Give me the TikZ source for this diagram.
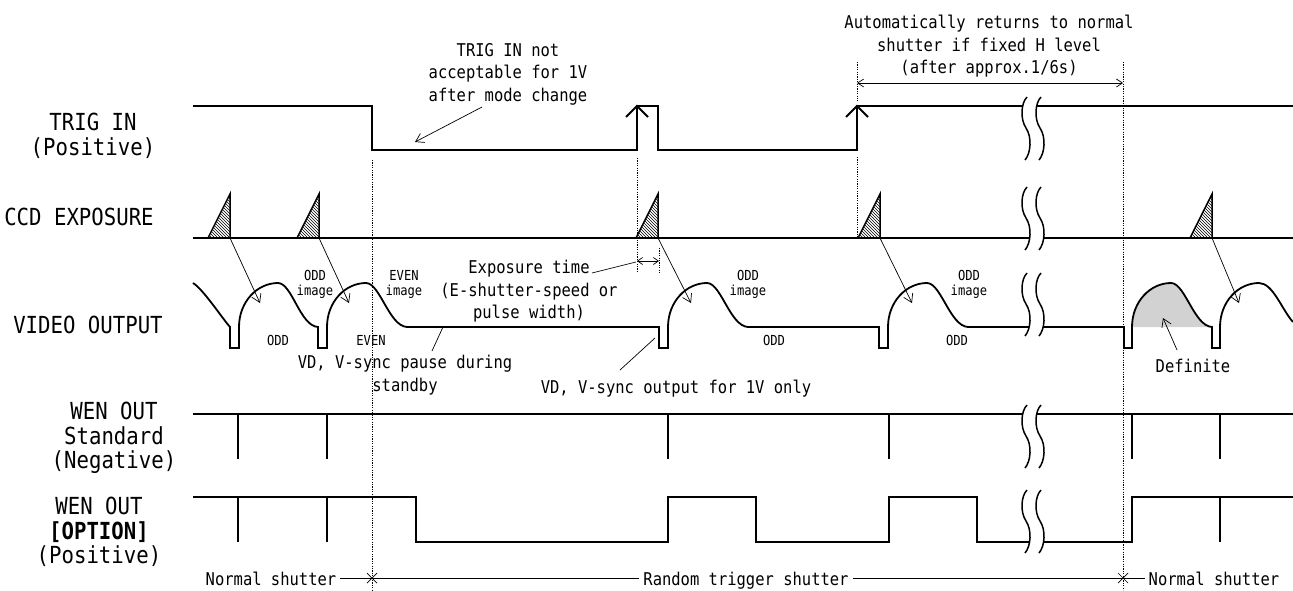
\documentclass[tikz,border=0pt]{standalone}
\usepackage{fontspec}
\newfontfamily\lab{DejaVu Sans Mono}[FakeStretch=0.88]
\usetikzlibrary{patterns,arrows.meta}
\tikzset{
  sig/.style={line width=1.8pt, line join=miter},
  thinln/.style={line width=0.7pt},
  dotv/.style={line width=0.6pt, dash pattern=on 1.2pt off 1.2pt},
  brkln/.style={line width=1.5pt},
  barb/.style={-{Straight Barb[length=8pt,width=10pt]}},
  dimarr/.style={{Straight Barb[length=6pt,width=8pt]}-{Straight Barb[length=6pt,width=8pt]}},
  lbl/.style={font={\lab\fontsize{23.5}{24.5}\selectfont}, align=center, inner sep=0pt},
  note/.style={font={\lab\fontsize{17.6}{22.5}\selectfont}, align=center, inner sep=0pt},
  small/.style={font={\lab\fontsize{13.8}{15}\selectfont}, align=center, inner sep=0pt},
  hatch/.style={line width=1.5pt, line join=miter, pattern=north west lines},
}
\newcommand\brkmark[1]{%
  \begin{scope}[shift={(1026,#1)}]
    \fill[white] (1,0) .. controls (-5,6) and (-6,22) .. (0,31) .. controls (6,40) and (5,56) .. (-1,63)
      -- (13,63) .. controls (19,56) and (20,40) .. (14,31) .. controls (8,22) and (9,6) .. (15,0) -- cycle;
    \draw[brkln] (1,0) .. controls (-5,6) and (-6,22) .. (0,31) .. controls (6,40) and (5,56) .. (-1,63);
    \draw[brkln] (15,0) .. controls (9,6) and (8,22) .. (14,31) .. controls (20,40) and (19,56) .. (13,63);
  \end{scope}}
\begin{document}
\begin{tikzpicture}[x=1pt,y=-1pt]
\useasboundingbox (0,0) rectangle (1293,590);

% ---------- row labels ----------
\node[lbl, anchor=north] (ltrig) at (93,113) {TRIG IN\\(Positive)};
\node[lbl, anchor=base] (lccd) at (79,225) {CCD EXPOSURE};
\node[lbl, anchor=base] (lvid) at (88,333) {VIDEO OUTPUT};
\node[lbl, anchor=north] (lwens) at (114,402) {WEN OUT\\Standard\\(Negative)};
\node[lbl, anchor=north] (lweno) at (99,497) {WEN OUT\\{\bfseries [OPTION]}\\(Positive)};

% ---------- dotted verticals ----------
\draw[dotv] (372,160) -- (372,590);
\draw[dotv] (637,158) -- (637,273);
\draw[dotv] (659,248) -- (659,273);
\draw[dotv] (857,62) -- (857,101);
\draw[dotv] (857,157) -- (857,238);
\draw[dotv] (1123,62) -- (1123,590);

% ---------- TRIG IN ----------
\draw[sig] (193,106) -- (372,106) -- (372,150) -- (637,150) -- (637,106) -- (658,106) -- (658,150)
  -- (857,150) -- (857,106) -- (1293,106);
\draw[sig] (626,117) -- (637,106) -- (648,117);
\draw[sig] (846,117) -- (857,106) -- (868,117);

% ---------- CCD EXPOSURE ----------
\draw[sig] (193,238) -- (1293,238);
\foreach \r/\n in {230/t1,319/t2,658/t3,880/t4,1212/t5}{
  \draw[hatch] (\r-22,238) -- (\r,194) -- (\r,238) -- cycle;
  \coordinate (\n) at (\r,238);
}

% ---------- VIDEO OUTPUT ----------
\fill[gray!35] (1132,327) .. controls (1132,302) and (1150,283) .. (1171,283)
  .. controls (1185,283) and (1194,326) .. (1212,327) -- cycle;
\draw[sig] (193,283) .. controls (203,289) and (222,318) .. (230,327) -- (230,348) -- (239,348) -- (239,327)
 .. controls (239,302) and (257,283) .. (278,283) .. controls (292,283) and (300,326) .. (318,327)
 -- (318,348) -- (327,348) -- (327,327)
 .. controls (327,302) and (345,283) .. (366,283) .. controls (380,283) and (389,326) .. (407,327)
 -- (659,327) -- (659,348) -- (668,348) -- (668,327)
 .. controls (668,302) and (686,283) .. (707,283) .. controls (721,283) and (730,326) .. (748,327)
 -- (879,327) -- (879,348) -- (888,348) -- (888,327)
 .. controls (888,302) and (906,283) .. (927,283) .. controls (941,283) and (950,326) .. (968,327)
 -- (1124,327) -- (1124,348) -- (1132,348) -- (1132,327)
 .. controls (1132,302) and (1150,283) .. (1171,283) .. controls (1185,283) and (1194,326) .. (1212,327)
 -- (1212,348) -- (1220,348) -- (1220,327)
 .. controls (1220,302) and (1238,283) .. (1259,283) .. controls (1273,283) and (1282,310) .. (1293,322);

% arrows from exposures to images
\coordinate (h1) at (260,303);
\coordinate (h2) at (349,303);
\coordinate (h3) at (691,303);
\coordinate (h4) at (912,303);
\coordinate (h5) at (1239,303);
\draw[thinln, barb] (t1) -- (h1);
\draw[thinln, barb] (t2) -- (h2);
\draw[thinln, barb] (t3) -- (h3);
\draw[thinln, barb] (t4) -- (h4);
\draw[thinln, barb] (t5) -- (h5);

% field labels
\node[small, anchor=north] (oi1) at (315,270) {ODD\\image};
\node[small, anchor=north] (ei1) at (404,270) {EVEN\\image};
\node[small, anchor=north] (oi2) at (748,270) {ODD\\image};
\node[small, anchor=north] (oi3) at (969,270) {ODD\\image};
\node[small, anchor=base] (of1) at (278,345) {ODD};
\node[small, anchor=base] (ef1) at (371,345) {EVEN};
\node[small, anchor=base] (of2) at (774,345) {ODD};
\node[small, anchor=base] (of3) at (957,345) {ODD};

% ---------- WEN OUT standard ----------
\draw[sig] (193,414) -- (1293,414);
\foreach \x in {238,327,668,889,1132,1220}{
  \draw[sig] (\x,414) -- (\x,459);
}

% ---------- WEN OUT option ----------
\draw[sig] (193,497) -- (416,497) -- (416,542) -- (668,542) -- (668,497) -- (756,497) -- (756,542)
  -- (889,542) -- (889,497) -- (977,497) -- (977,542) -- (1132,542) -- (1132,497) -- (1293,497);
\foreach \x in {238,327,1220}{
  \draw[sig] (\x,497) -- (\x,542);
}

% ---------- breaks ----------
\brkmark{97}
\brkmark{187}
\brkmark{273}
\brkmark{405}
\brkmark{490}

% ---------- annotations ----------
\node[note, anchor=north] (trignote) at (508,43) {TRIG IN not\\acceptable for 1V\\after mode change};
\coordinate (trigtail) at (482,107);
\coordinate (trighead) at (415,142);
\draw[thinln, barb] (trigtail) -- (trighead);

\node[note, anchor=north] (autonote) at (989,15) {Automatically returns to normal\\shutter if fixed H level\\(after approx.1/6s)};
\coordinate (dimL) at (857,83);
\coordinate (dimR) at (1123,83);
\draw[thinln, dimarr] (dimL) -- (dimR);

\node[note, anchor=north] (expnote) at (529,260) {Exposure time\\(E-shutter-speed or\\pulse width)};
\coordinate (expL) at (637,261);
\coordinate (expR) at (659,261);
\draw[thinln, {Straight Barb[length=5pt,width=7pt]}-{Straight Barb[length=5pt,width=7pt]}] (expL) -- (expR);
\coordinate (expleader) at (592,273);
\draw[thinln] (expleader) -- (636,262);

\node[note, anchor=north] (vdpause) at (405,355) {VD, V-sync pause during\\standby};
\coordinate (vdp1) at (432,351);
\coordinate (vdp2) at (443,327);
\draw[thinln] (vdp1) -- (vdp2);

\node[note, anchor=base] (vdout) at (676,393) {VD, V-sync output for 1V only};
\coordinate (vdo1) at (620,370);
\coordinate (vdo2) at (655,338);
\draw[thinln] (vdo1) -- (vdo2);

\node[note, anchor=base] (defin) at (1193,372) {Definite};
\coordinate (def1) at (1177,350);
\coordinate (def2) at (1163,318);
\draw[thinln, barb] (def1) -- (def2);

% ---------- shutter modes ----------
\node[note, anchor=base, inner xsep=4pt] (nsl) at (271,585) {Normal shutter};
\node[note, anchor=base, inner xsep=4pt] (rts) at (746,585) {Random trigger shutter};
\node[note, anchor=base, inner xsep=4pt] (nsr) at (1214,585) {Normal shutter};
\coordinate (xa) at (372,578);
\coordinate (xb) at (1123,578);
\draw[thinln] (nsl.east |- xa) -- (xa) -- (rts.west |- xa);
\draw[thinln] (rts.east |- xb) -- (xb) -- (nsr.west |- xb);
\draw[thinln] (367,573) -- (377,583) (367,583) -- (377,573);
\draw[thinln] (1118,573) -- (1128,583) (1118,583) -- (1128,573);
\end{tikzpicture}
\end{document}
